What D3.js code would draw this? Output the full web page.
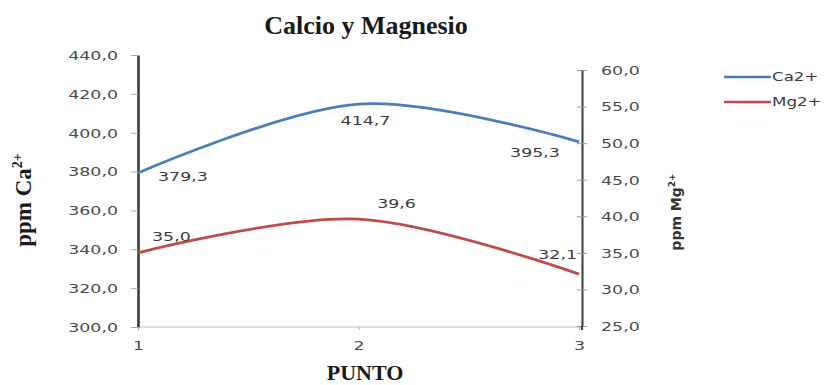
<!DOCTYPE html>
<html>
<head>
<meta charset="utf-8">
<script src="https://cdn.jsdelivr.net/npm/d3@7"></script>
<style>
  html, body { margin: 0; padding: 0; background: #fff; }
  svg { display: block; }
  .tick text { font-family: "DejaVu Sans", Verdana, sans-serif; font-size: 12px; fill: #4a4a4a; }
</style>
</head>
<body>
<svg id="chart" width="827" height="385"></svg>
<script>
// Sampling points along the channel
const puntos = [1, 2, 3];
// Calcium and magnesium concentrations (ppm)
const calcio = [379.3, 414.7, 395.3];
const magnesio = [35.0, 39.6, 32.1];
// Axis ticks
const ticksCa = [300, 320, 340, 360, 380, 400, 420, 440];
const ticksMg = [25, 30, 35, 40, 45, 50, 55, 60];
const serieNombres = ["Ca2+", "Mg2+"];
const colores = ["#4a7ebb", "#be4b48"];

const svg = d3.select("#chart");
const locale = d3.formatLocale({ decimal: ",", thousands: ".", grouping: [3], currency: ["", ""] });
const fmt = locale.format(".1f");
const SX = 1.45; // horizontal stretch used by the axis/label font

const x = d3.scaleLinear().domain([1, 3]).range([138, 579]);
const yCa = d3.scaleLinear().domain([300, 440]).range([327, 55]);
const yMg = d3.scaleLinear().domain([25, 60]).range([326, 70]);
const rightX = 582;

// Title and axis titles
svg.append("text").attr("x", 366).attr("y", 34).attr("text-anchor", "middle")
  .style("font-family", "'Liberation Serif', 'Times New Roman', serif")
  .style("font-weight", "bold").style("font-size", "26px").style("fill", "#1a1a1a")
  .text("Calcio y Magnesio");

svg.append("text").attr("x", 365).attr("y", 380).attr("text-anchor", "middle")
  .style("font-family", "'Liberation Serif', 'Times New Roman', serif")
  .style("font-weight", "bold").style("font-size", "22px").style("fill", "#1a1a1a")
  .text("PUNTO");

const yl = svg.append("text").attr("transform", "translate(31,200) rotate(-90)")
  .attr("text-anchor", "middle")
  .style("font-family", "'Liberation Serif', 'Times New Roman', serif")
  .style("font-weight", "bold").style("font-size", "23px").style("fill", "#1a1a1a");
yl.append("tspan").text("ppm Ca");
yl.append("tspan").attr("dy", -9).style("font-size", "14px").text("2+");

const yr = svg.append("text").attr("transform", "translate(681,212) rotate(-90)")
  .attr("text-anchor", "middle")
  .style("font-family", "'DejaVu Sans', sans-serif").style("font-weight", "bold")
  .style("font-size", "14px").style("fill", "#333");
yr.append("tspan").text("ppm Mg");
yr.append("tspan").attr("dy", -6).style("font-size", "9px").text("2+");

// Baseline
svg.append("line").attr("x1", x(1)).attr("x2", rightX).attr("y1", yCa(300)).attr("y2", yCa(300))
  .attr("stroke", "#bdbdbd").attr("stroke-width", 1.2);

// Left axis (Ca)
const gL = svg.append("g").attr("transform", `translate(${x(1)},0)`)
  .call(d3.axisLeft(yCa).tickValues(ticksCa).tickFormat(fmt).tickSize(7).tickSizeOuter(0));
gL.select(".domain").attr("stroke", "#3a3a3a").attr("stroke-width", 2.6);
gL.selectAll(".tick line").attr("stroke", "#aaa");
gL.selectAll(".tick text").attr("x", 0).attr("dy", "0.36em")
  .attr("transform", `translate(-20,0) scale(${SX},1)`);

// Right axis (Mg)
const gR = svg.append("g").attr("transform", `translate(${rightX},0)`)
  .call(d3.axisRight(yMg).tickValues(ticksMg).tickFormat(fmt).tickSize(5).tickSizeOuter(0));
gR.select(".domain").attr("stroke", "#3a3a3a").attr("stroke-width", 2);
gR.selectAll(".tick line").attr("x1", -5).attr("stroke", "#999");
gR.selectAll(".tick text").attr("x", 0).attr("dy", "0.36em")
  .attr("transform", `translate(19,0) scale(${SX},1)`);
svg.append("line").attr("x1", rightX).attr("x2", rightX).attr("y1", yMg(25)).attr("y2", yCa(300) + 3)
  .attr("stroke", "#3a3a3a").attr("stroke-width", 2);

// Bottom axis
const gB = svg.append("g").attr("transform", `translate(0,${yCa(300)})`)
  .call(d3.axisBottom(x).tickValues(puntos).tickFormat(d3.format("d")).tickSize(3).tickSizeOuter(0));
gB.select(".domain").remove();
gB.selectAll(".tick line").attr("stroke", "#aaa");
gB.selectAll(".tick text").attr("y", 0).attr("dy", "0.71em")
  .attr("transform", `translate(0,14) scale(${SX},1)`);

// Smoothed series lines
const curve = d3.curveCardinal.tension(0);
const lineCa = d3.line().x((d, i) => x(puntos[i])).y(d => yCa(d)).curve(curve);
const lineMg = d3.line().x((d, i) => x(puntos[i])).y(d => yMg(d)).curve(curve);
svg.append("path").attr("d", lineCa(calcio)).attr("fill", "none")
  .attr("stroke", colores[0]).attr("stroke-width", 2.8);
svg.append("path").attr("d", lineMg(magnesio)).attr("fill", "none")
  .attr("stroke", colores[1]).attr("stroke-width", 2.8);

// Data labels
function label(px, py, txt, anchor) {
  svg.append("g").attr("transform", `translate(${px},${py}) scale(${SX},1)`)
    .append("text").attr("text-anchor", anchor)
    .style("font-family", "'DejaVu Sans', Verdana, sans-serif")
    .style("font-size", "12px").style("fill", "#3a3a3a").text(txt);
}
const caOff = [[20, 8, "start"], [7, 21, "middle"], [-44, 15, "middle"]];
const mgOff = [[14, -12, "start"], [38, -11, "middle"], [-2, -15, "end"]];
calcio.forEach((v, i) => label(x(puntos[i]) + caOff[i][0], yCa(v) + caOff[i][1], fmt(v), caOff[i][2]));
magnesio.forEach((v, i) => label(x(puntos[i]) + mgOff[i][0], yMg(v) + mgOff[i][1], fmt(v), mgOff[i][2]));

// Legend
serieNombres.forEach((n, i) => {
  const ly = 77 + i * 25;
  svg.append("line").attr("x1", 724).attr("x2", 771).attr("y1", ly).attr("y2", ly)
    .attr("stroke", colores[i]).attr("stroke-width", 2.6);
  svg.append("g").attr("transform", `translate(772,${ly}) scale(1.45,1)`)
    .append("text").attr("dy", "0.36em")
    .style("font-family", "'DejaVu Sans', Verdana, sans-serif")
    .style("font-size", "11.5px").style("fill", "#3a3a3a").text(n);
});
</script>
</body>
</html>
